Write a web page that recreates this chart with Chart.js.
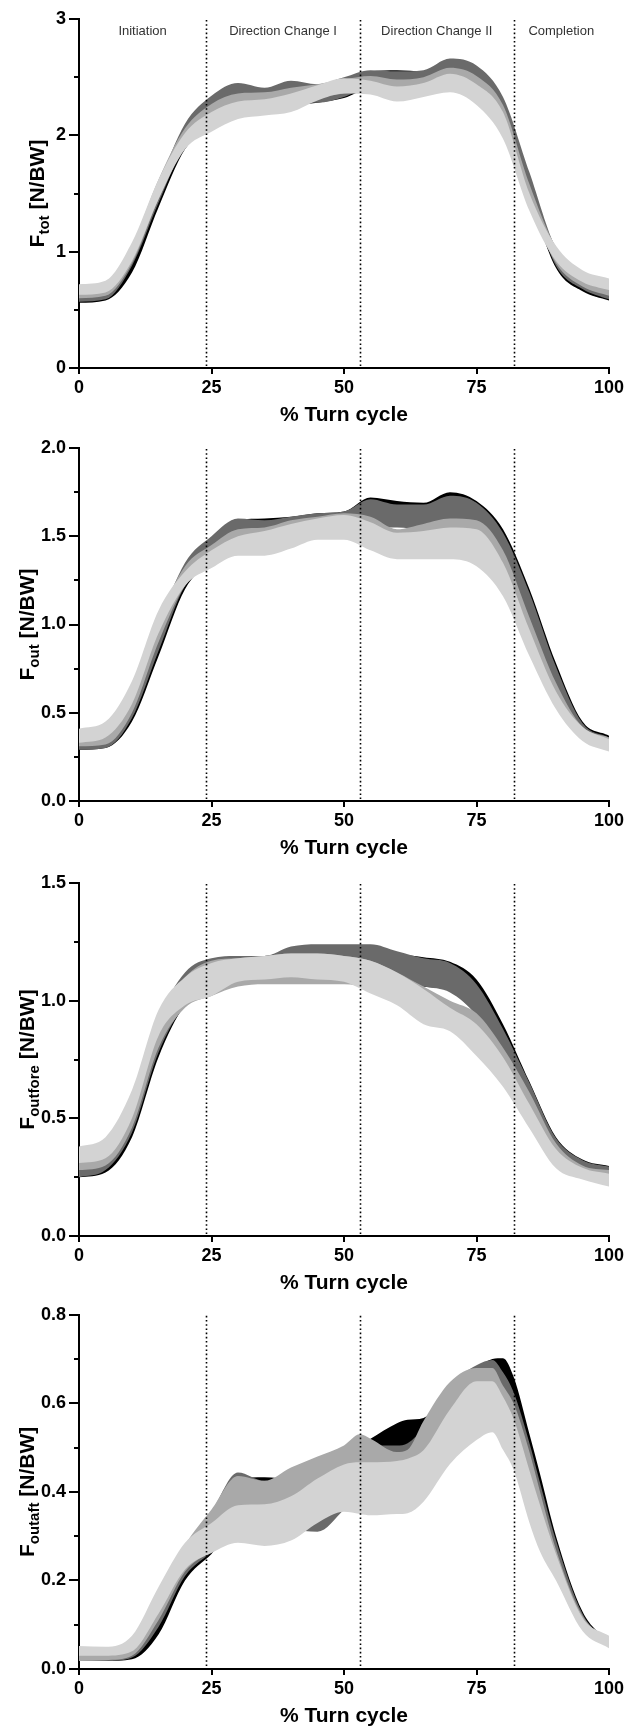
<!DOCTYPE html>
<html><head><meta charset="utf-8">
<script src="https://cdn.jsdelivr.net/npm/chart.js@4.4.1/dist/chart.umd.min.js"></script>
<style>
html,body{margin:0;padding:0;background:#fff;width:630px;height:1726px;overflow:hidden;}
canvas{position:absolute;left:0;}
</style></head><body>
<canvas id="c1" width="630" height="434" style="top:0px;width:630px;height:434px"></canvas>
<canvas id="c2" width="630" height="434" style="top:433px;width:630px;height:434px"></canvas>
<canvas id="c3" width="630" height="434" style="top:868px;width:630px;height:434px"></canvas>
<canvas id="c4" width="630" height="434" style="top:1301px;width:630px;height:434px"></canvas>
<script>
// ---------- DATA ----------
const turnPct = [0,5,10,15,20,25,30,35,40,45,50,55,60,65,70,75,80,85,90,95,100];
const aftPct  = [0,5,10,15,20,25,30,35,40,45,50,53,55,60,62,65,70,75,78,80,82,85,87,90,95,100];
const xTicks = [0,25,50,75,100];
const phaseBounds = [24,53,82];
const phaseNames = ["Initiation","Direction Change I","Direction Change II","Completion"];

// Panel 1: F_tot
const totLightUp = [0.72,0.75,1.08,1.62,2.02,2.20,2.29,2.31,2.36,2.43,2.49,2.47,2.42,2.45,2.53,2.44,2.20,1.50,1.05,0.84,0.77];
const totLightLo = [0.63,0.65,0.92,1.45,1.88,2.03,2.14,2.17,2.20,2.30,2.36,2.35,2.29,2.33,2.37,2.26,1.97,1.35,0.92,0.74,0.67];
const totMidUp   = [0.67,0.70,1.05,1.62,2.06,2.27,2.36,2.37,2.41,2.44,2.48,2.51,2.48,2.50,2.58,2.51,2.26,1.58,1.04,0.82,0.69];
const totMidLo   = [0.60,0.62,0.90,1.45,1.92,2.07,2.20,2.22,2.27,2.32,2.36,2.38,2.35,2.38,2.42,2.32,2.05,1.42,0.90,0.70,0.62];
const totDarkUp  = [0.62,0.66,1.00,1.58,2.10,2.34,2.45,2.41,2.47,2.44,2.50,2.56,2.55,2.56,2.66,2.60,2.33,1.68,1.03,0.80,0.63];
const totDarkLo  = [0.57,0.59,0.88,1.42,1.92,2.12,2.25,2.25,2.28,2.28,2.33,2.42,2.40,2.42,2.48,2.40,2.12,1.50,0.88,0.68,0.59];
const totBlackUp = [0.60,0.62,0.95,1.55,2.05,2.30,2.42,2.40,2.44,2.40,2.46,2.55,2.56,2.55,2.64,2.58,2.31,1.65,1.00,0.78,0.62];
const totBlackLo = [0.56,0.58,0.82,1.38,1.88,2.08,2.22,2.25,2.26,2.28,2.32,2.40,2.40,2.40,2.45,2.38,2.10,1.48,0.86,0.66,0.58];

// Panel 2: F_out
const outLightUp = [0.41,0.45,0.68,1.08,1.30,1.42,1.50,1.53,1.57,1.60,1.62,1.58,1.52,1.53,1.55,1.54,1.35,0.97,0.62,0.42,0.35];
const outLightLo = [0.33,0.36,0.55,0.95,1.22,1.32,1.39,1.39,1.43,1.48,1.48,1.42,1.37,1.37,1.37,1.33,1.16,0.82,0.52,0.34,0.28];
const outMidUp   = [0.37,0.40,0.63,1.03,1.33,1.45,1.54,1.55,1.59,1.61,1.63,1.61,1.54,1.57,1.60,1.59,1.42,1.04,0.67,0.42,0.36];
const outMidLo   = [0.31,0.32,0.50,0.90,1.22,1.33,1.42,1.42,1.45,1.49,1.50,1.48,1.42,1.42,1.44,1.42,1.25,0.88,0.55,0.36,0.30];
const outDarkUp  = [0.33,0.36,0.58,1.00,1.35,1.50,1.60,1.59,1.61,1.63,1.64,1.71,1.68,1.68,1.73,1.69,1.52,1.18,0.76,0.44,0.36];
const outDarkLo  = [0.29,0.30,0.47,0.85,1.22,1.36,1.45,1.46,1.48,1.50,1.52,1.55,1.55,1.54,1.58,1.55,1.38,1.00,0.62,0.38,0.32];
const outBlackUp = [0.32,0.35,0.55,0.97,1.33,1.49,1.59,1.60,1.61,1.63,1.64,1.72,1.70,1.69,1.75,1.70,1.54,1.20,0.78,0.45,0.37];
const outBlackLo = [0.29,0.30,0.45,0.82,1.20,1.36,1.45,1.47,1.48,1.50,1.52,1.57,1.57,1.57,1.60,1.57,1.40,1.03,0.64,0.39,0.33];

// Panel 3: F_outfore
const foreLightUp = [0.38,0.42,0.62,0.96,1.10,1.16,1.18,1.19,1.20,1.20,1.19,1.17,1.12,1.05,0.97,0.90,0.76,0.56,0.37,0.29,0.265];
const foreLightLo = [0.31,0.33,0.50,0.85,0.98,1.02,1.08,1.09,1.10,1.09,1.08,1.03,0.98,0.90,0.87,0.765,0.634,0.457,0.288,0.240,0.21];
const foreMidUp   = [0.34,0.37,0.58,0.93,1.10,1.17,1.18,1.19,1.20,1.20,1.19,1.17,1.12,1.06,1.00,0.946,0.80,0.61,0.394,0.30,0.28];
const foreMidLo   = [0.28,0.30,0.46,0.80,0.97,1.02,1.06,1.07,1.07,1.07,1.07,1.05,1.00,0.94,0.89,0.78,0.65,0.48,0.31,0.25,0.23];
const foreDarkUp  = [0.29,0.33,0.55,0.92,1.12,1.18,1.19,1.19,1.23,1.24,1.24,1.24,1.21,1.18,1.16,1.07,0.88,0.65,0.415,0.322,0.295];
const foreDarkLo  = [0.25,0.28,0.44,0.78,0.98,1.05,1.08,1.09,1.12,1.12,1.13,1.12,1.08,1.06,1.035,0.94,0.78,0.58,0.36,0.29,0.274];
const foreBlackUp = [0.28,0.31,0.53,0.90,1.11,1.17,1.19,1.19,1.22,1.23,1.23,1.23,1.20,1.185,1.165,1.09,0.90,0.655,0.42,0.325,0.297];
const foreBlackLo = [0.25,0.27,0.42,0.76,0.98,1.05,1.08,1.09,1.12,1.12,1.13,1.12,1.08,1.06,1.04,0.94,0.78,0.58,0.36,0.29,0.275];

// Panel 4: F_outaft (x = aftPct)
const aftLightUp = [0.052,0.050,0.075,0.185,0.285,0.330,0.370,0.372,0.390,0.430,0.462,0.467,0.467,0.470,0.475,0.494,0.586,0.650,0.650,0.615,0.565,0.448,0.370,0.260,0.116,0.075];
const aftLightLo = [0.030,0.030,0.040,0.125,0.225,0.262,0.285,0.278,0.290,0.330,0.355,0.350,0.347,0.350,0.352,0.378,0.463,0.517,0.535,0.495,0.450,0.330,0.265,0.200,0.086,0.047];
const aftMidUp   = [0.035,0.035,0.070,0.165,0.280,0.360,0.436,0.425,0.455,0.480,0.505,0.530,0.520,0.490,0.495,0.560,0.648,0.680,0.680,0.640,0.600,0.490,0.400,0.270,0.120,0.065];
const aftMidLo   = [0.018,0.020,0.030,0.110,0.220,0.270,0.340,0.335,0.345,0.365,0.400,0.415,0.420,0.410,0.410,0.440,0.530,0.560,0.560,0.520,0.470,0.350,0.280,0.205,0.090,0.050];
const aftDarkUp  = [0.030,0.030,0.055,0.150,0.270,0.355,0.444,0.425,0.440,0.470,0.500,0.505,0.505,0.505,0.510,0.545,0.640,0.686,0.698,0.670,0.625,0.510,0.420,0.290,0.125,0.060];
const aftDarkLo  = [0.018,0.018,0.026,0.095,0.210,0.265,0.330,0.320,0.315,0.310,0.360,0.400,0.420,0.450,0.455,0.470,0.530,0.570,0.580,0.560,0.500,0.380,0.300,0.220,0.095,0.050];
const aftBlackUp = [0.028,0.028,0.045,0.135,0.260,0.350,0.430,0.433,0.430,0.460,0.500,0.505,0.520,0.555,0.563,0.567,0.630,0.680,0.700,0.702,0.660,0.530,0.440,0.300,0.130,0.060];
const aftBlackLo = [0.018,0.018,0.022,0.078,0.200,0.260,0.320,0.320,0.310,0.320,0.380,0.400,0.440,0.470,0.475,0.480,0.520,0.570,0.585,0.580,0.530,0.400,0.320,0.230,0.100,0.050];

// ---------- STYLE ----------
const COLORS = {light:'#d3d3d3', mid:'#a9a9a9', dark:'#6a6a6a', black:'#000000'};
const FONT = "'Liberation Sans', Arial, Helvetica, sans-serif";
Chart.defaults.font.family = FONT;

function zip(xs, ys){ return xs.map((x,i)=>({x:x, y:ys[i]})); }
function bands(xs, list){
  const ds = [];
  list.forEach(b=>{
    ds.push({data: zip(xs,b.lo), fill:false, borderWidth:0, borderColor:'rgba(0,0,0,0)', pointRadius:0, cubicInterpolationMode:'monotone'});
    ds.push({data: zip(xs,b.up), fill:'-1', backgroundColor:b.color, borderWidth:0, borderColor:'rgba(0,0,0,0)', pointRadius:0, cubicInterpolationMode:'monotone'});
  });
  return ds;
}

const decorPlugin = {
  id:'decor',
  afterDatasetsDraw(chart, args, opts){
    const ctx = chart.ctx, ca = chart.chartArea, xs = chart.scales.x, ys = chart.scales.y;
    ctx.save();
    // dotted phase lines
    ctx.strokeStyle = '#000'; ctx.lineWidth = 1.6; ctx.setLineDash([1.6,2.6]);
    phaseBounds.forEach(v=>{
      const px = Math.round(xs.getPixelForValue(v))+0.5;
      ctx.beginPath(); ctx.moveTo(px, ca.top+1); ctx.lineTo(px, ca.bottom-2); ctx.stroke();
    });
    ctx.setLineDash([]);
    // minor y ticks
    ctx.lineWidth = 2;
    for (let v = opts.minor; v < opts.max - 1e-9; v += opts.step){
      const py = Math.round(ys.getPixelForValue(v));
      ctx.beginPath(); ctx.moveTo(ca.left-5, py); ctx.lineTo(ca.left, py); ctx.stroke();
    }
    // phase labels
    if (opts.phases){
      ctx.fillStyle = '#333'; ctx.font = "13px " + FONT; ctx.textAlign='center'; ctx.textBaseline='middle';
      const b = [0].concat(phaseBounds).concat([100]);
      phaseNames.forEach((n,i)=>{
        const cx = (xs.getPixelForValue(b[i]) + xs.getPixelForValue(b[i+1]))/2;
        ctx.fillText(n, cx, ca.top + 12);
      });
    }
    // y axis title with subscript
    const cy = (ca.top + ca.bottom)/2;
    ctx.translate(opts.titleX, cy); ctx.rotate(-Math.PI/2);
    ctx.fillStyle = '#000'; ctx.textBaseline = 'alphabetic'; ctx.textAlign = 'left';
    const f1 = "bold 21px " + FONT, f2 = "bold 15px " + FONT;
    ctx.font = f1; const wF = ctx.measureText('F').width; const wR = ctx.measureText(' [N/BW]').width;
    ctx.font = f2; const wS = ctx.measureText(opts.sub).width;
    let x0 = -(wF + wS + wR)/2;
    ctx.font = f1; ctx.fillText('F', x0, 0);
    ctx.font = f2; ctx.fillText(opts.sub, x0 + wF, 5);
    ctx.font = f1; ctx.fillText(' [N/BW]', x0 + wF + wS, 0);
    ctx.restore();
  }
};

function makeChart(id, xs, list, cfg){
  new Chart(document.getElementById(id), {
    type:'line',
    data:{ datasets: bands(xs, list) },
    options:{
      responsive:false, animation:false, events:[],
      layout:{ padding:{ left:0, right:21, top:cfg.top, bottom:0 } },
      plugins:{ legend:{display:false}, tooltip:{enabled:false},
        decor:{ sub:cfg.sub, minor:cfg.minorStart, step:cfg.step, max:cfg.max, phases:cfg.phases, titleX:cfg.titleX } },
      scales:{
        x:{ type:'linear', min:0, max:100,
            afterBuildTicks:(s)=>{ s.ticks = xTicks.map(v=>({value:v})); },
            ticks:{ color:'#000', font:{size:18, weight:'bold'}, padding:3, maxRotation:0 },
            grid:{ drawOnChartArea:false, drawTicks:true, tickLength:6, color:'#000', lineWidth:2 },
            border:{ display:true, color:'#000', width:2 },
            title:{ display:true, text:'% Turn cycle', color:'#000', font:{size:21, weight:'bold'}, padding:{top:0,bottom:6} },
            afterFit:(s)=>{ s.height = 66; } },
        y:{ type:'linear', min:0, max:cfg.max,
            ticks:{ stepSize:cfg.step, color:'#000', font:{size:18, weight:'bold'}, padding:3,
                    callback:(v)=>Number(v).toFixed(cfg.dec) },
            grid:{ drawOnChartArea:false, drawTicks:true, tickLength:10, color:'#000', lineWidth:2 },
            border:{ display:true, color:'#000', width:2 },
            afterFit:(s)=>{ s.width = 79; } }
      }
    },
    plugins:[decorPlugin]
  });
}

const L = (up,lo)=>({up,lo,color:COLORS.light});
const M = (up,lo)=>({up,lo,color:COLORS.mid});
const D = (up,lo)=>({up,lo,color:COLORS.dark});
const B = (up,lo)=>({up,lo,color:COLORS.black});

makeChart('c1', turnPct, [L(totLightUp,totLightLo), M(totMidUp,totMidLo), D(totDarkUp,totDarkLo), B(totBlackUp,totBlackLo)],
  {top:19, max:3, step:1, minorStart:0.5, dec:0, sub:'tot', phases:true, titleX:44});
makeChart('c2', turnPct, [L(outLightUp,outLightLo), M(outMidUp,outMidLo), D(outDarkUp,outDarkLo), B(outBlackUp,outBlackLo)],
  {top:15, max:2, step:0.5, minorStart:0.25, dec:1, sub:'out', phases:false, titleX:34});
makeChart('c3', turnPct, [L(foreLightUp,foreLightLo), M(foreMidUp,foreMidLo), D(foreDarkUp,foreDarkLo), B(foreBlackUp,foreBlackLo)],
  {top:15, max:1.5, step:0.5, minorStart:0.25, dec:1, sub:'outfore', phases:false, titleX:34});
makeChart('c4', aftPct, [L(aftLightUp,aftLightLo), M(aftMidUp,aftMidLo), D(aftDarkUp,aftDarkLo), B(aftBlackUp,aftBlackLo)],
  {top:13, max:0.8, step:0.2, minorStart:0.1, dec:1, sub:'outaft', phases:false, titleX:34});
</script>
</body></html>
